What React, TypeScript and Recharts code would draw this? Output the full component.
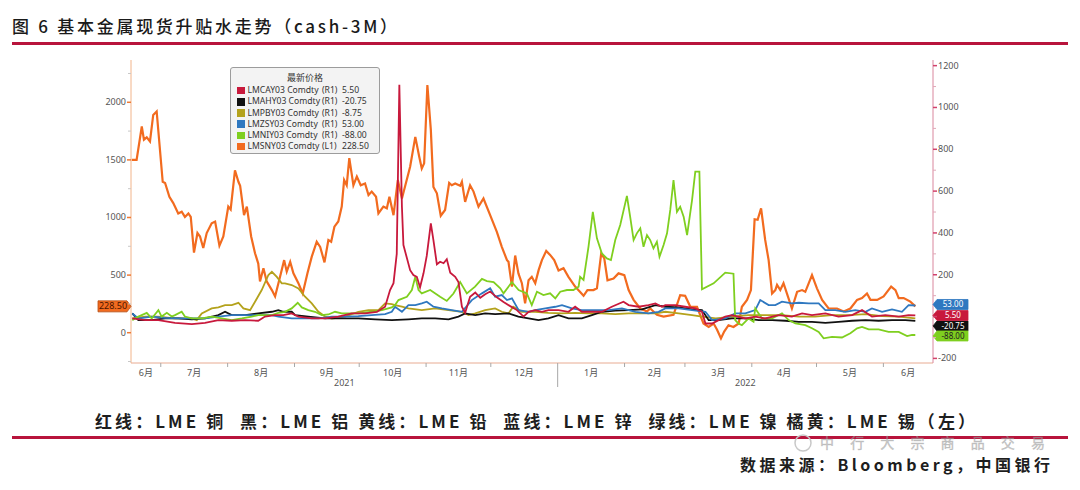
import { LineChart, Line, XAxis, YAxis, Legend, ReferenceDot } from 'recharts'

const FONT = '"Noto Sans CJK SC", "Noto Sans", sans-serif'
const AXIS_FONT = '"Noto Sans", "Noto Sans CJK SC", sans-serif'

// x values are days counted from 2021-06-01
const START_DAY = 16.2
const END_DAY = 388
const MONTH_STARTS = [30, 61, 92, 122, 153, 183, 214, 245, 273, 304, 334, 365]
const MONTH_LABELS = ['6月', '7月', '8月', '9月', '10月', '11月', '12月', '1月', '2月', '3月', '4月', '5月', '6月']
const YEAR_LABELS = ['2021', '2022']
const YEAR_BREAK = 214

const LEFT_TICKS = [-250, 0, 250, 500, 750, 1000, 1250, 1500, 1750, 2000, 2250]
const RIGHT_TICKS = [-200, -100, 0, 100, 200, 300, 400, 500, 600, 700, 800, 900, 1000, 1100, 1200]

// LMSNY03 (tin, left axis)
const SN_DAY = [16.5, 18.8, 21.2, 22.2, 23.5, 25.0, 26.5, 28.1, 30.9, 32.0, 34.0, 35.8, 38.1, 39.7, 41.2, 42.8, 43.9, 45.4, 47.0, 48.2, 49.7, 51.3, 53.6, 55.2, 57.2, 59.0, 61.3, 62.4, 64.4, 66.0, 66.8, 68.6, 69.9, 71.9, 73.7, 75.2, 76.0, 77.6, 79.1, 81.5, 83.0, 85.3, 87.2, 88.4, 90.0, 91.5, 93.8, 95.8, 98.0, 100.0, 102.3, 103.9, 105.9, 107.7, 109.0, 110.5, 112.3, 113.9, 115.0, 116.2, 117.4, 119.3, 120.9, 122.7, 124.7, 126.3, 127.8, 129.8, 130.9, 133.2, 134.8, 136.0, 137.9, 139.9, 141.8, 145.6, 148.0, 149.8, 151.0, 152.1, 153.6, 155.2, 156.4, 158.0, 159.8, 161.8, 163.7, 164.9, 166.5, 168.8, 169.6, 171.1, 173.4, 175.0, 177.3, 179.6, 182.7, 185.8, 188.1, 190.5, 191.2, 192.8, 194.3, 195.8, 197.4, 198.9, 200.5, 202.0, 203.6, 205.2, 206.7, 208.7, 210.5, 212.4, 214.4, 216.7, 219.0, 222.1, 226.0, 227.8, 230.6, 232.2, 234.2, 235.6, 237.1, 239.9, 242.2, 244.9, 246.9, 249.2, 252.3, 255.4, 256.9, 260.0, 263.1, 267.7, 270.8, 273.1, 275.5, 278.6, 281.6, 284.0, 286.3, 287.9, 289.7, 291.2, 293.2, 295.5, 297.9, 299.4, 301.8, 303.6, 305.3, 306.7, 308.3, 310.2, 311.8, 313.4, 314.9, 315.7, 317.2, 318.7, 320.3, 322.6, 325.0, 327.3, 328.8, 331.9, 334.2, 336.6, 339.6, 343.5, 346.6, 349.7, 352.8, 355.1, 357.4, 359.0, 362.1, 365.1, 368.6, 370.6, 372.1, 374.4, 377.5, 379.8]
const SN = [1500, 1500, 1790, 1675, 1695, 1660, 1890, 1920, 1310, 1300, 1180, 1125, 1035, 1050, 1005, 1035, 1005, 695, 865, 835, 735, 865, 950, 965, 755, 835, 1095, 1070, 1410, 1310, 1275, 1020, 1095, 835, 690, 600, 445, 560, 445, 370, 315, 485, 630, 530, 615, 515, 430, 340, 515, 660, 790, 745, 610, 805, 790, 920, 965, 1095, 1325, 1280, 1515, 1280, 1355, 1280, 1295, 1195, 1225, 1180, 1035, 1095, 1080, 1180, 1020, 1325, 1165, 1440, 1700, 1530, 1425, 1470, 2150, 1760, 1265, 1210, 1015, 1065, 1300, 1280, 1295, 1275, 1310, 1135, 1280, 1225, 1095, 1165, 1020, 875, 745, 630, 615, 400, 670, 515, 430, 255, 455, 485, 430, 545, 630, 710, 675, 630, 540, 560, 485, 400, 320, 370, 370, 385, 690, 645, 455, 470, 515, 500, 370, 285, 210, 185, 210, 155, 140, 155, 325, 320, 225, 225, 80, 50, 80, 25, -50, 10, 65, 50, 80, 225, 285, 370, 985, 980, 1080, 805, 630, 340, 370, 415, 370, 430, 340, 210, 355, 370, 355, 500, 385, 285, 210, 210, 185, 210, 285, 300, 340, 285, 285, 315, 400, 370, 300, 300, 270, 228.5]

// LMNIY03 (nickel, right axis)
const NI_DAY = [16.8, 19.6, 23.5, 25.8, 28.9, 30.4, 32.8, 35.1, 36.6, 39.7, 41.2, 44.4, 49.0, 53.6, 58.3, 62.9, 67.6, 72.2, 75.2, 78.3, 81.5, 84.5, 87.6, 90.7, 93.5, 95.4, 98.4, 101.5, 104.6, 107.7, 110.8, 113.9, 121.6, 127.8, 132.5, 137.1, 138.6, 140.2, 144.1, 146.4, 148.0, 149.5, 151.0, 154.9, 159.5, 162.6, 165.7, 168.8, 171.9, 175.7, 178.9, 181.2, 184.3, 187.4, 188.9, 192.8, 195.9, 199.7, 202.0, 204.4, 207.4, 210.5, 212.9, 215.2, 218.3, 221.3, 223.7, 224.4, 226.0, 228.3, 230.3, 232.2, 234.5, 236.8, 238.7, 240.7, 243.0, 246.1, 247.6, 249.2, 250.7, 252.3, 253.8, 255.4, 256.9, 258.4, 260.0, 261.2, 263.1, 264.7, 266.2, 267.7, 269.3, 270.8, 272.4, 274.0, 276.3, 277.8, 279.7, 280.9, 286.3, 291.7, 295.5, 296.3, 297.8, 299.4, 302.5, 304.8, 305.6, 308.7, 313.4, 318.0, 321.1, 324.2, 328.8, 331.9, 335.0, 337.3, 341.2, 345.8, 349.7, 352.8, 355.1, 358.2, 362.8, 367.4, 372.1, 376.0, 378.3, 379.8]
const NI = [-17, 0, 18, -9, 31, 0, 18, 0, 7, 23, 0, -9, -9, 0, -9, -17, -9, 0, 7, 7, 7, 18, 23, 39, 66, 44, 31, 23, 7, 10, 23, 15, 15, 23, 31, 44, 55, 79, 95, 127, 190, 127, 111, 127, 95, 75, 110, 165, 111, 143, 180, 170, 165, 135, 111, 165, 127, 111, 55, 119, 103, 111, 87, 119, 127, 127, 143, 190, 175, 334, 501, 374, 302, 278, 270, 366, 438, 577, 478, 366, 398, 422, 334, 390, 366, 326, 358, 286, 342, 398, 510, 653, 501, 525, 478, 390, 557, 693, 693, 130, 159, 210, 205, -17, -33, -41, -9, -25, 39, -9, -9, 15, -17, -33, -41, -56, -73, -104, -97, -100, -80, -56, -49, -61, -61, -73, -73, -93, -88, -88]

// LMCAY03 (copper, right axis)
const CU_DAY = [16.8, 22.7, 28.9, 36.6, 44.4, 50.5, 56.7, 62.9, 69.1, 75.2, 78.3, 83.0, 86.8, 90.7, 93.8, 100.0, 106.2, 112.3, 118.6, 124.7, 130.2, 134.0, 136.3, 137.9, 139.4, 140.6, 141.8, 142.5, 145.6, 147.1, 148.7, 150.2, 151.8, 153.3, 155.2, 156.4, 158.0, 159.5, 161.1, 162.6, 164.2, 166.5, 168.0, 169.6, 171.1, 173.4, 175.8, 178.1, 180.4, 182.7, 185.8, 188.9, 192.0, 195.1, 198.2, 200.5, 203.6, 206.7, 209.7, 214.4, 219.0, 222.1, 225.2, 229.9, 234.5, 239.1, 244.5, 246.9, 251.5, 256.1, 259.3, 262.3, 263.9, 268.5, 273.1, 277.8, 280.9, 282.5, 285.6, 288.6, 291.7, 294.8, 301.0, 305.6, 310.2, 316.4, 322.6, 327.3, 331.9, 338.1, 344.2, 350.5, 355.1, 359.7, 365.9, 372.1, 376.7, 379.8]
const CU = [-9, -17, -17, -30, -36, -30, -17, -20, -17, -20, 0, 7, 7, 15, 0, -9, -9, 0, 15, 15, 23, 47, 127, 160, 300, 1108, 525, 342, 222, 199, 190, 140, 207, 290, 446, 366, 250, 262, 255, 274, 210, 190, 165, 47, 18, 95, 115, 90, 107, 120, 92, 70, 50, 31, 0, 23, 31, 23, 31, 31, 23, 47, 23, 23, 23, 47, 71, 55, 47, 55, 63, 47, 55, 55, 47, 39, 23, -33, -33, -17, 0, 7, -9, 0, -9, 7, 0, 15, 7, 15, 0, 7, 31, 0, 7, 0, 7, 5.5]

// LMAHY03 (aluminium, right axis)
const AL_DAY = [16.8, 19.6, 25.8, 32.0, 38.1, 44.4, 50.5, 56.7, 59.8, 62.9, 69.1, 75.2, 81.5, 84.5, 86.8, 90.7, 92.3, 98.4, 106.2, 113.9, 121.6, 129.4, 137.1, 144.8, 151.0, 157.2, 163.4, 168.0, 171.1, 175.8, 180.4, 185.0, 191.2, 195.8, 200.5, 205.1, 209.7, 214.4, 219.0, 225.2, 229.9, 234.5, 240.7, 246.9, 253.1, 259.3, 263.9, 270.1, 276.3, 280.9, 284.0, 288.6, 294.8, 301.0, 307.2, 313.4, 319.6, 325.8, 331.9, 338.1, 344.2, 350.5, 356.7, 362.8, 369.0, 375.2, 379.8]
const AL = [15, -17, -17, -9, -9, -13, -9, 7, 23, 7, 7, 15, 23, 31, 23, 23, 7, 0, -9, -9, -9, -13, -17, -13, -9, -9, -13, 0, 15, 7, 15, 12, 15, 0, -9, -17, -9, 7, -9, -9, 7, 23, 28, 31, 34, 55, 47, 44, 34, 31, -17, -17, -9, -9, -17, -17, -20, -25, -25, -30, -25, -20, -17, -20, -17, -17, -20.75]

// LMPBY03 (lead, right axis)
const PB_DAY = [16.8, 22.7, 28.9, 36.6, 44.4, 46.7, 49.0, 53.6, 56.7, 59.8, 62.9, 66.0, 68.3, 71.4, 73.7, 76.8, 79.9, 81.5, 83.8, 86.1, 87.6, 90.7, 93.8, 96.9, 100.0, 103.1, 106.2, 109.3, 115.5, 121.6, 126.3, 130.9, 134.0, 137.1, 138.6, 141.8, 144.8, 151.0, 157.2, 163.4, 169.6, 172.7, 175.8, 180.4, 185.0, 188.1, 191.2, 193.4, 197.4, 203.6, 209.7, 215.9, 222.1, 228.2, 234.5, 240.7, 246.9, 253.1, 259.3, 263.9, 270.1, 276.3, 280.9, 287.3, 294.8, 302.5, 310.2, 318.0, 325.8, 333.3, 341.2, 348.9, 356.7, 364.4, 372.1, 379.8]
const PB = [-9, 0, 0, -9, -9, -17, 15, 39, 44, 55, 55, 66, 39, 31, 71, 127, 199, 214, 190, 159, 159, 151, 135, 95, 63, 23, 0, -9, 0, 23, 31, 31, 63, 60, 55, 47, 39, 31, 39, 31, 23, 7, 15, 31, 39, 23, 15, 47, 23, 23, 18, 15, 18, 15, 15, 12, 15, 15, 15, 23, 15, 7, 0, -9, 0, 7, 7, 7, 0, 0, 7, 7, 12, 2, 0, -8.75]

// LMZSY03 (zinc, right axis)
const ZN_DAY = [16.8, 19.6, 25.8, 32.0, 38.1, 44.4, 50.5, 56.7, 62.9, 69.1, 75.2, 81.5, 84.5, 90.7, 96.9, 103.1, 109.3, 115.5, 121.6, 127.8, 134.0, 137.1, 138.6, 141.8, 144.8, 148.0, 151.0, 153.3, 156.4, 160.3, 164.9, 169.6, 174.2, 178.9, 182.7, 185.0, 188.1, 190.5, 192.8, 195.9, 200.5, 203.6, 208.3, 212.9, 216.0, 220.6, 225.2, 231.4, 237.6, 243.8, 250.0, 256.1, 260.8, 263.9, 270.1, 276.3, 282.5, 285.6, 291.7, 296.3, 301.0, 305.6, 307.9, 311.8, 314.9, 318.0, 322.6, 325.8, 330.4, 335.0, 338.1, 342.7, 347.3, 352.0, 356.7, 359.7, 364.4, 369.0, 373.6, 376.7, 379.8]
const ZN = [15, -9, 0, -6, -9, -9, -9, 0, 7, 7, 7, 7, 0, -9, -9, -9, 0, 0, 2, 7, 12, 23, 47, 23, 55, 55, 63, 71, 47, 39, 31, 23, 79, 111, 135, 95, 103, 79, 87, 31, 23, 31, 39, 47, 55, 39, 31, 31, 31, 39, 23, 15, 23, 39, 39, 31, 23, -17, -9, 15, 15, 31, 79, 55, 55, 71, 63, 66, 63, 63, 31, 31, 23, 31, 23, 39, 23, 34, 23, 55, 53]

const toPoints = (days: number[], values: number[]) => days.map((d, i) => ({ d, v: values[i] }))

// legend order; badgeShift nudges badges that would sit on top of each other
const SERIES = [
  { key: 'cu', name: 'LMCAY03 Comdty', tag: '(R1)', axis: 'R', color: '#c8193c', text: '#fff', data: toPoints(CU_DAY, CU), last: 5.5, badge: true, badgeShift: 0 },
  { key: 'al', name: 'LMAHY03 Comdty', tag: '(R1)', axis: 'R', color: '#111111', text: '#fff', data: toPoints(AL_DAY, AL), last: -20.75, badge: true, badgeShift: 5 },
  { key: 'pb', name: 'LMPBY03 Comdty', tag: '(R1)', axis: 'R', color: '#b4a21c', text: '#222', data: toPoints(PB_DAY, PB), last: -8.75, badge: false, badgeShift: 0 },
  { key: 'zn', name: 'LMZSY03 Comdty', tag: '(R1)', axis: 'R', color: '#2f78c0', text: '#fff', data: toPoints(ZN_DAY, ZN), last: 53, badge: true, badgeShift: -1 },
  { key: 'ni', name: 'LMNIY03 Comdty', tag: '(R1)', axis: 'R', color: '#7fcf1f', text: '#222', data: toPoints(NI_DAY, NI), last: -88, badge: true, badgeShift: 1 },
  { key: 'sn', name: 'LMSNY03 Comdty', tag: '(L1)', axis: 'L', color: '#f26b1f', text: '#4a1400', data: toPoints(SN_DAY, SN), last: 228.5, badge: true, badgeShift: 0 },
]
const byKey = (k: string) => SERIES.find((s) => s.key === k)!
const DRAW_ORDER = ['sn', 'pb', 'al', 'zn', 'ni', 'cu'].map(byKey)
const BADGE_ORDER = ['al', 'cu', 'zn', 'ni', 'sn'].map(byKey).filter((s) => s.badge)

// x ticks: month edges (marks), month labels (middle of each visible month), year labels
const edges = [START_DAY, ...MONTH_STARTS, END_DAY]
const X_INFO = new Map<number, { kind: string; text?: string }>()
MONTH_STARTS.forEach((d) => X_INFO.set(d, { kind: d === YEAR_BREAK ? 'break' : 'edge' }))
MONTH_LABELS.forEach((t, i) => X_INFO.set((edges[i] + edges[i + 1]) / 2, { kind: 'month', text: t }))
X_INFO.set((START_DAY + YEAR_BREAK) / 2, { kind: 'year', text: YEAR_LABELS[0] })
X_INFO.set((YEAR_BREAK + END_DAY) / 2, { kind: 'year', text: YEAR_LABELS[1] })
const X_TICKS = [...X_INFO.keys()].sort((a, b) => a - b)

const XTick = (p: any) => {
  const t = X_INFO.get(p.payload.value)
  if (!t) return null
  if (t.kind === 'edge' || t.kind === 'break')
    return <line x1={p.x} x2={p.x} y1={p.y} y2={p.y + (t.kind === 'break' ? 24 : 4)} stroke="#a8a8a8" />
  return (
    <text x={p.x} y={p.y + (t.kind === 'month' ? 13 : 23)} textAnchor="middle" fontSize={9} fill="#555" fontFamily={AXIS_FONT}>
      {t.text}
    </text>
  )
}

const LeftTick = (p: any) => {
  const v = p.payload.value
  const major = v % 500 === 0
  return (
    <g>
      <line x1={p.x - (major ? 4 : 3)} x2={p.x} y1={p.y} y2={p.y} stroke={major ? '#ee7a35' : '#c8c8c8'} strokeWidth={major ? 1.5 : 1} />
      {major && (
        <text x={p.x - 5} y={p.y + 3} textAnchor="end" fontSize={9} fill="#555" fontFamily={AXIS_FONT}>
          {v}
        </text>
      )}
    </g>
  )
}

const RightTick = (p: any) => {
  const v = p.payload.value
  const major = v % 200 === 0
  return (
    <g>
      <line x1={p.x} x2={p.x + (major ? 4 : 3)} y1={p.y} y2={p.y} stroke={major ? '#d2426c' : '#e0a8b8'} strokeWidth={major ? 1.5 : 1} />
      {major && v !== 0 && (
        <text x={p.x + 5} y={p.y + 3} textAnchor="start" fontSize={9} fill="#555" fontFamily={AXIS_FONT}>
          {v}
        </text>
      )}
    </g>
  )
}

const Badge = ({ cx, cy, s }: any) => {
  const h = 5
  const left = s.axis === 'L'
  const y = cy + s.badgeShift
  const pts = left
    ? [[cx, y], [cx - 4, y - h - 0.5], [cx - 33, y - h - 0.5], [cx - 33, y + h + 0.5], [cx - 4, y + h + 0.5]]
    : [[cx, y], [cx + 4, y - h], [cx + 35, y - h], [cx + 35, y + h], [cx + 4, y + h]]
  return (
    <g>
      <polygon points={pts.map((q) => q.join(',')).join(' ')} fill={s.color} stroke={left ? '#b34a10' : s.color} strokeWidth={0.8} />
      <text x={left ? cx - 18 : cx + 20} y={y + 2.9} textAnchor="middle" fontSize={left ? 9 : 8} fill={s.text} fontFamily={AXIS_FONT}>
        {s.last.toFixed(2)}
      </text>
    </g>
  )
}

const LegendBox = () => (
  <div style={{ width: 150, height: 87, boxSizing: 'border-box', background: '#f3f3f3', border: '1px solid #9c9c9c', borderRadius: 3, fontFamily: AXIS_FONT, fontSize: 8.6, color: '#333', padding: '2px 0 0 6px', lineHeight: 1 }}>
    <div style={{ textAlign: 'center', fontFamily: FONT, fontSize: 9, height: 15, lineHeight: '15px', marginLeft: -6 }}>最新价格</div>
    {SERIES.map((s) => (
      <div key={s.key} style={{ display: 'flex', alignItems: 'center', height: 11.2, whiteSpace: 'nowrap' }}>
        <span style={{ width: 7.5, height: 7.5, background: s.color, marginRight: 3, flex: 'none' }} />
        <span style={{ width: 74.5, flex: 'none' }}>{s.name}</span>
        <span style={{ width: 20, flex: 'none' }}>{s.tag}</span>
        <span>{s.last.toFixed(2)}</span>
      </div>
    ))}
  </div>
)

const FOOTER = '红线：LME 铜  黑：LME 铝 黄线：LME 铅  蓝线：LME 锌  绿线：LME 镍 橘黄：LME 锡（左）'

export default function App() {
  return (
    <div style={{ position: 'absolute', left: 0, top: 0, width: 1080, height: 490, background: '#fff' }}>
      <LineChart width={1080} height={400} margin={{ top: 60, right: 97, bottom: 7, left: 81 }}>
        <XAxis
          type="number"
          dataKey="d"
          domain={[START_DAY, END_DAY]}
          ticks={X_TICKS}
          interval={0}
          tickSize={0}
          tickMargin={0}
          tickLine={false}
          tick={XTick}
          height={30}
          axisLine={{ stroke: '#e8ab92' }}
        />
        <YAxis
          yAxisId="L"
          domain={[-263, 2367]}
          ticks={LEFT_TICKS}
          interval={0}
          tickSize={0}
          tickMargin={0}
          tickLine={false}
          tick={LeftTick}
          width={50}
          axisLine={{ stroke: '#f2b48a' }}
        />
        <YAxis
          yAxisId="R"
          orientation="right"
          domain={[-222, 1227]}
          ticks={RIGHT_TICKS}
          interval={0}
          tickSize={0}
          tickMargin={0}
          tickLine={false}
          tick={RightTick}
          width={50}
          axisLine={{ stroke: '#d9869d' }}
        />
        <Legend
          layout="horizontal"
          verticalAlign="middle"
          align="center"
          content={LegendBox}
          wrapperStyle={{ left: 230, top: 67, width: 150, height: 87 }}
        />
        {DRAW_ORDER.map((s) => (
          <Line
            key={s.key}
            yAxisId={s.axis}
            data={s.data}
            dataKey="v"
            name={s.name}
            stroke={s.color}
            strokeWidth={s.key === 'sn' ? 2.2 : 1.8}
            dot={false}
            activeDot={false}
            type="linear"
            isAnimationActive={false}
          />
        ))}
        {BADGE_ORDER.map((s) => (
          <ReferenceDot
            key={s.key}
            yAxisId={s.axis}
            x={s.axis === 'L' ? START_DAY : END_DAY}
            y={s.last}
            shape={(p: any) => <Badge cx={p.cx} cy={p.cy} s={s} />}
          />
        ))}
      </LineChart>
      <svg width={1080} height={490} style={{ position: 'absolute', left: 0, top: 0, pointerEvents: 'none' }}>
        <text x={12} y={33} textLength={385} lengthAdjust="spacing" fontSize={17} fontWeight={500} fontFamily={FONT} fill="#1a1a1a" style={{ whiteSpace: 'pre' }}>
          图 6 基本金属现货升贴水走势（cash-3M）
        </text>
        <rect x={12} y={42} width={1056} height={3} fill="#b8143c" />
        <text x={95} y={428} textLength={880} lengthAdjust="spacing" fontSize={17} fontWeight={600} fontFamily={FONT} fill="#1e1e1e" style={{ whiteSpace: 'pre' }}>
          {FOOTER}
        </text>
        <rect x={12} y={436} width={1056} height={3} fill="#b8143c" />
        <circle cx={803} cy={443} r={8} fill="none" stroke="#c8c8c8" strokeWidth={1.5} />
        <text x={820} y={448} textLength={225} lengthAdjust="spacing" fontSize={14} fontFamily={FONT} fill="#9a9a9a" fillOpacity={0.5} stroke="#9a9a9a" strokeOpacity={0.5} strokeWidth={0.5}>
          中行大宗商品交易
        </text>
        <text x={740} y={471} textLength={310} lengthAdjust="spacing" fontSize={16} fontWeight={600} fontFamily={FONT} fill="#1e1e1e">
          数据来源：Bloomberg，中国银行
        </text>
      </svg>
    </div>
  )
}
